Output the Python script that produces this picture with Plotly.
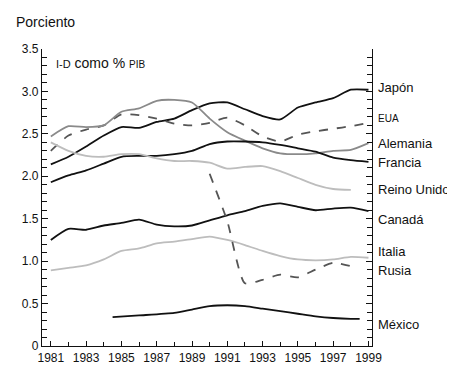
import plotly.graph_objects as go

years = list(range(1981, 2000))

japon = [2.14, 2.23, 2.35, 2.48, 2.58, 2.57, 2.64, 2.68, 2.78, 2.86, 2.87, 2.79, 2.71, 2.67, 2.81, 2.87, 2.92, 3.02, 3.02]
eua = [2.30, 2.48, 2.55, 2.60, 2.73, 2.72, 2.68, 2.62, 2.60, 2.63, 2.69, 2.60, 2.47, 2.41, 2.49, 2.53, 2.56, 2.59, 2.63]
alemania = [2.47, 2.59, 2.58, 2.60, 2.76, 2.80, 2.89, 2.90, 2.87, 2.68, 2.52, 2.42, 2.33, 2.27, 2.26, 2.27, 2.30, 2.31, 2.39]
francia = [1.93, 2.01, 2.07, 2.15, 2.23, 2.24, 2.24, 2.26, 2.30, 2.38, 2.41, 2.41, 2.40, 2.37, 2.33, 2.29, 2.22, 2.19, 2.17]
reino_unido = [2.40, 2.30, 2.24, 2.23, 2.26, 2.26, 2.21, 2.18, 2.18, 2.16, 2.09, 2.11, 2.12, 2.06, 1.98, 1.90, 1.85, 1.84]
canada = [1.25, 1.38, 1.37, 1.42, 1.45, 1.49, 1.43, 1.41, 1.42, 1.48, 1.54, 1.59, 1.65, 1.68, 1.64, 1.60, 1.62, 1.63, 1.59]
italia = [0.89, 0.92, 0.95, 1.02, 1.12, 1.15, 1.21, 1.23, 1.26, 1.29, 1.25, 1.19, 1.12, 1.06, 1.02, 1.01, 1.02, 1.05, 1.04]
rusia_years = list(range(1990, 1999))
rusia = [2.03, 1.47, 0.74, 0.78, 0.84, 0.81, 0.90, 0.98, 0.94]
mexico_years = [1984.5, 1986, 1988, 1989, 1990, 1991, 1992, 1993, 1994, 1995, 1996, 1997, 1998, 1998.5]
mexico = [0.34, 0.36, 0.39, 0.43, 0.47, 0.48, 0.47, 0.44, 0.41, 0.38, 0.35, 0.33, 0.32, 0.32]

labels = ["Japón", "EUA", "Alemania", "Francia", "Reino Unido", "Canadá", "Italia", "Rusia", "México"]
label_y = [3.05, 2.68, 2.39, 2.16, 1.84, 1.49, 1.11, 0.89, 0.25]

x_tickvals = list(range(1981, 2000, 2))
y_tickvals = [0, 0.5, 1.0, 1.5, 2.0, 2.5, 3.0, 3.5]
y_ticktext = ["0", "0.5", "1.0", "1.5", "2.0", "2.5", "3.0", "3.5"]

BLACK = "#111111"
MID = "#8a8a8a"
DASH = "#555555"
LIGHT = "#bdbdbd"

series = [
    (years, japon, BLACK, "solid"),
    (years, eua, DASH, "dash"),
    (years, alemania, MID, "solid"),
    (years, francia, BLACK, "solid"),
    (years[:len(reino_unido)], reino_unido, LIGHT, "solid"),
    (years, canada, BLACK, "solid"),
    (years, italia, LIGHT, "solid"),
    (rusia_years, rusia, DASH, "dash"),
    (mexico_years, mexico, BLACK, "solid"),
]

fig = go.Figure()
for (xs, ys, col, dash), name in zip(series, labels):
    fig.add_trace(go.Scatter(
        x=xs, y=ys, name=name, mode="lines",
        line=dict(color=col, width=1.8, dash=dash, shape="spline", smoothing=0.6),
        showlegend=False, hoverinfo="skip",
    ))

font_family = "Arial, Liberation Sans, sans-serif"

L, R, T, B = 34, 91, 41, 25
PW = 455 - L - R
PH = 369 - T - B

fig.update_layout(
    width=455, height=369,
    margin=dict(l=L, r=R, t=T, b=B),
    paper_bgcolor="white", plot_bgcolor="white",
    font=dict(family=font_family, size=12, color="#111111"),
    xaxis=dict(
        range=[1980.5, 1999.2], tickvals=x_tickvals, ticktext=[str(v) for v in x_tickvals],
        showgrid=False, zeroline=False, showline=True, linecolor="#111111", linewidth=1.2,
        ticks="inside", ticklen=5, tickcolor="#111111",
        minor=dict(dtick=1, tick0=1981, ticks="inside", ticklen=4, tickcolor="#111111"),
        tickfont=dict(size=12),
    ),
    yaxis=dict(
        range=[0, 3.5], tickvals=y_tickvals, ticktext=y_ticktext,
        showgrid=False, zeroline=False, showline=True, linecolor="#111111", linewidth=1.2,
        ticks="inside", ticklen=6, tickcolor="#111111", mirror="ticks",
        minor=dict(dtick=0.1, tick0=0, ticks="inside", ticklen=5, tickcolor="#111111"),
        tickfont=dict(size=12),
    ),
)

fig.add_annotation(xref="paper", yref="paper", x=(6 - L) / PW, y=1 + 28 / PH, xanchor="left", yanchor="middle",
                   text="Porciento", showarrow=False, font=dict(size=14))
fig.add_annotation(xref="paper", yref="paper", x=12 / PW, y=1 - 14 / PH, xanchor="left", yanchor="middle",
                   text="<span style='font-size:11px'>I-D</span> como % <span style='font-size:10px'>PIB</span>",
                   showarrow=False, font=dict(size=14))

for lab, ly in zip(labels, label_y):
    fig.add_annotation(xref="paper", yref="y", x=(368 - L) / PW, y=ly, xanchor="left", yanchor="middle",
                       text=lab, showarrow=False, font=dict(size=10 if lab == "EUA" else 13))

fig.write_html("out.html")
